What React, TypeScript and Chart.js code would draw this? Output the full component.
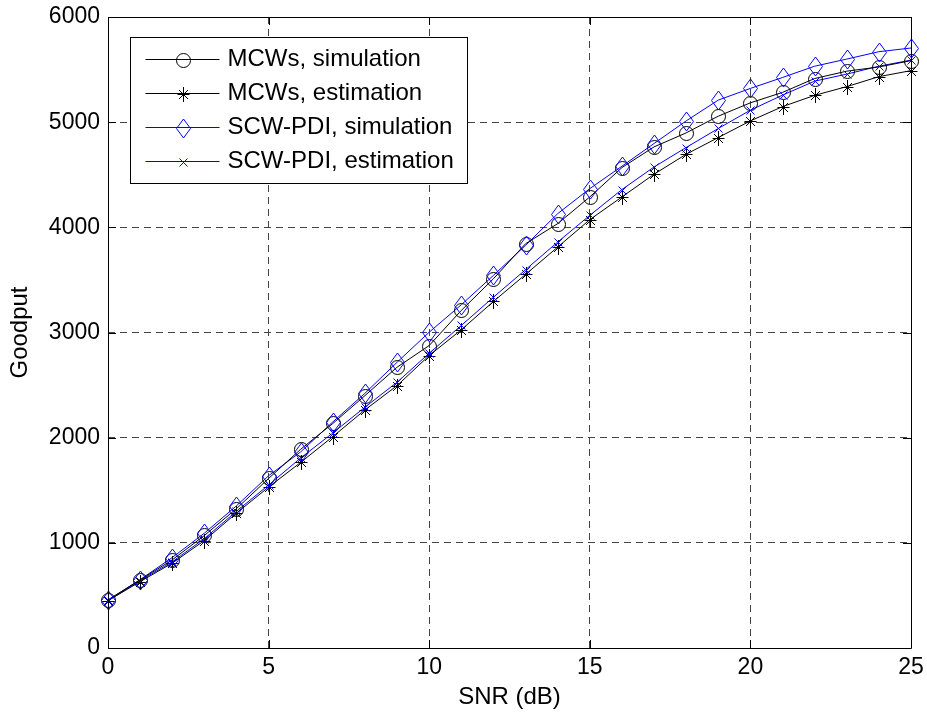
import React, { useEffect, useRef } from "react";
import { Chart, registerables } from "chart.js";

Chart.register(...registerables);

const snrDb = [0, 1, 2, 3, 4, 5, 6, 7, 8, 9, 10, 11, 12, 13, 14, 15, 16, 17, 18, 19, 20, 21, 22, 23, 24, 25];
const mcwsSimulation = [457, 648, 838, 1070, 1325, 1612, 1890, 2135, 2400, 2670, 2876, 3210, 3511, 3844, 4035, 4289, 4568, 4765, 4898, 5057, 5184, 5283, 5415, 5485, 5525, 5585];
const mcwsEstimation = [450, 631, 807, 1022, 1283, 1530, 1765, 2010, 2264, 2495, 2781, 3026, 3295, 3552, 3812, 4073, 4289, 4505, 4695, 4854, 5012, 5148, 5255, 5338, 5433, 5490];
const scwSimulation = [455, 650, 860, 1092, 1352, 1638, 1865, 2150, 2422, 2717, 3003, 3264, 3543, 3829, 4130, 4368, 4581, 4797, 5012, 5210, 5321, 5425, 5532, 5600, 5670, 5705];
const scwEstimation = [452, 640, 820, 1040, 1300, 1550, 1807, 2045, 2290, 2527, 2803, 3067, 3336, 3597, 3860, 4114, 4359, 4574, 4759, 4940, 5114, 5257, 5390, 5457, 5532, 5590];
const seriesLabels = ["MCWs, simulation", "MCWs, estimation", "SCW-PDI, simulation", "SCW-PDI, estimation"];
const seriesColors = ["#000000", "#000000", "#0000ff", "#0000ff"];
const seriesMarkers = ["circle", "star", "diamond", "x"];
const xAxisTitle = "SNR (dB)";
const yAxisTitle = "Goodput";

const FONT = '"Liberation Sans", Arial, Helvetica, sans-serif';
const BLACK = "#000000";

function makeCanvas(w: number, h: number, draw: (c: CanvasRenderingContext2D) => void) {
  const cv = document.createElement("canvas");
  cv.width = w;
  cv.height = h;
  const c = cv.getContext("2d")!;
  draw(c);
  return cv;
}

function makeMarker(kind: string, color: string) {
  if (kind === "diamond") {
    return makeCanvas(17, 21, (c) => {
      c.strokeStyle = color;
      c.lineWidth = 1;
      c.beginPath();
      c.moveTo(8.5, 1);
      c.lineTo(15.5, 10.5);
      c.lineTo(8.5, 20);
      c.lineTo(1.5, 10.5);
      c.closePath();
      c.stroke();
    });
  }
  if (kind === "star") {
    return makeCanvas(15, 17, (c) => {
      c.strokeStyle = color;
      c.lineWidth = 1;
      c.beginPath();
      c.moveTo(7.5, 1);
      c.lineTo(7.5, 16);
      c.moveTo(1.5, 8.5);
      c.lineTo(13.5, 8.5);
      c.moveTo(3, 4);
      c.lineTo(12, 13);
      c.moveTo(12, 4);
      c.lineTo(3, 13);
      c.stroke();
    });
  }
  if (kind === "x") {
    return makeCanvas(11, 11, (c) => {
      c.strokeStyle = color;
      c.lineWidth = 1;
      c.beginPath();
      c.moveTo(1.5, 1.5);
      c.lineTo(9.5, 9.5);
      c.moveTo(9.5, 1.5);
      c.lineTo(1.5, 9.5);
      c.stroke();
    });
  }
  // circle
  return makeCanvas(17, 17, (c) => {
    c.strokeStyle = color;
    c.lineWidth = 1;
    c.beginPath();
    c.arc(8.5, 8.5, 7, 0, Math.PI * 2);
    c.stroke();
  });
}

function drawImg(ctx: CanvasRenderingContext2D, m: HTMLCanvasElement, x: number, y: number) {
  ctx.drawImage(m, Math.round(x) - Math.floor(m.width / 2), Math.round(y) - Math.floor(m.height / 2));
}

const markerPlugin = {
  id: "imageMarkers",
  afterDatasetsDraw(chart: any) {
    const { ctx } = chart;
    chart.data.datasets.forEach((ds: any, i: number) => {
      const m = ds.markerImage as HTMLCanvasElement;
      if (!m) return;
      const meta = chart.getDatasetMeta(i);
      meta.data.forEach((pt: any) => drawImg(ctx, m, pt.x, pt.y));
    });
  },
};

const framePlugin = {
  id: "matlabFrame",
  afterDatasetsDraw(chart: any) {
    const { ctx, chartArea } = chart;
    const { left, right, top, bottom } = chartArea;
    const xs = chart.scales.x;
    const ys = chart.scales.y;
    const tl = 8;
    ctx.save();
    ctx.strokeStyle = BLACK;
    ctx.lineWidth = 1;
    ctx.beginPath();
    ctx.rect(Math.round(left) + 0.5, Math.round(top) + 0.5, Math.round(right - left), Math.round(bottom - top));
    xs.ticks.forEach((t: any) => {
      const px = Math.round(xs.getPixelForValue(t.value)) + 0.5;
      ctx.moveTo(px, bottom);
      ctx.lineTo(px, bottom - tl);
      ctx.moveTo(px, top);
      ctx.lineTo(px, top + tl);
    });
    ys.ticks.forEach((t: any) => {
      const py = Math.round(ys.getPixelForValue(t.value)) + 0.5;
      ctx.moveTo(left, py);
      ctx.lineTo(left + tl, py);
      ctx.moveTo(right, py);
      ctx.lineTo(right - tl, py);
    });
    ctx.stroke();
    ctx.restore();
  },
};

const legendPlugin = {
  id: "matlabLegend",
  afterDraw(chart: any) {
    const { ctx, chartArea } = chart;
    const bx = Math.round(chartArea.left + 22) + 0.5;
    const by = Math.round(chartArea.top + 20) + 0.5;
    const bw = 337;
    const bh = 146;
    ctx.save();
    ctx.fillStyle = "#ffffff";
    ctx.fillRect(bx, by, bw, bh);
    ctx.strokeStyle = BLACK;
    ctx.lineWidth = 1;
    ctx.strokeRect(bx, by, bw, bh);
    chart.data.datasets.forEach((ds: any, i: number) => {
      const ry = Math.round(by + 21 + i * 34.3) + 0.5;
      ctx.strokeStyle = seriesColors[i];
      ctx.lineWidth = 1;
      ctx.beginPath();
      ctx.moveTo(bx + 15, ry);
      ctx.lineTo(bx + 89, ry);
      ctx.stroke();
      drawImg(ctx, ds.markerImage, bx + 52, ry);
      ctx.fillStyle = BLACK;
      ctx.font = `24px ${FONT}`;
      ctx.textBaseline = "middle";
      ctx.textAlign = "left";
      ctx.fillText(ds.label, bx + 97, ry);
    });
    ctx.restore();
  },
};

export default function App() {
  const ref = useRef<HTMLCanvasElement | null>(null);

  useEffect(() => {
    document.body.style.margin = "0";
    const canvas = ref.current!;
    const allSeries = [mcwsSimulation, mcwsEstimation, scwSimulation, scwEstimation];
    const datasets = allSeries.map((ys, i) => ({
      label: seriesLabels[i],
      data: snrDb.map((x, j) => ({ x, y: ys[j] })),
      borderColor: seriesColors[i],
      backgroundColor: "rgba(0,0,0,0)",
      borderWidth: 1,
      pointRadius: 0,
      pointHoverRadius: 0,
      tension: 0,
      fill: false,
      markerImage: makeMarker(seriesMarkers[i], seriesColors[i]),
    }));

    const noPad = (s: any) => {
      s.paddingTop = 0;
      s.paddingBottom = 0;
      s.paddingLeft = 0;
      s.paddingRight = 0;
    };

    const chart = new Chart(canvas, {
      type: "line",
      data: { datasets: datasets as any },
      options: {
        responsive: false,
        animation: false,
        devicePixelRatio: 1,
        layout: { padding: { top: 17, right: 16, left: 0, bottom: 0 } },
        plugins: {
          legend: { display: false },
          tooltip: { enabled: false },
        },
        scales: {
          x: {
            type: "linear",
            min: 0,
            max: 25,
            afterFit: (s: any) => {
              s.height = 66;
              noPad(s);
            },
            ticks: {
              stepSize: 5,
              padding: 6,
              color: BLACK,
              font: { family: FONT, size: 23 },
              maxRotation: 0,
              callback: (v: any) => String(v),
            },
            grid: {
              color: "#444444",
              lineWidth: 1,
              drawTicks: false,
            },
            border: { display: false, dash: [7, 5] },
            title: {
              display: true,
              text: xAxisTitle,
              color: BLACK,
              font: { family: FONT, size: 24 },
              padding: { top: 0, bottom: 2 },
            },
          },
          y: {
            type: "linear",
            min: 0,
            max: 6000,
            afterFit: (s: any) => {
              s.width = 108;
              noPad(s);
            },
            ticks: {
              stepSize: 1000,
              padding: 8,
              color: BLACK,
              font: { family: FONT, size: 23 },
              callback: (v: any) => String(v),
            },
            grid: {
              color: "#444444",
              lineWidth: 1,
              drawTicks: false,
            },
            border: { display: false, dash: [7, 5] },
            title: {
              display: true,
              text: yAxisTitle,
              color: BLACK,
              font: { family: FONT, size: 24 },
              padding: { top: 6, bottom: 0 },
            },
          },
        },
      },
      plugins: [markerPlugin, framePlugin, legendPlugin],
    });
    return () => chart.destroy();
  }, []);

  return (
    <div style={{ position: "absolute", left: 0, top: 0, width: 927, height: 714, background: "#fff" }}>
      <canvas ref={ref} width={927} height={714} style={{ width: 927, height: 714, display: "block" }} />
    </div>
  );
}
